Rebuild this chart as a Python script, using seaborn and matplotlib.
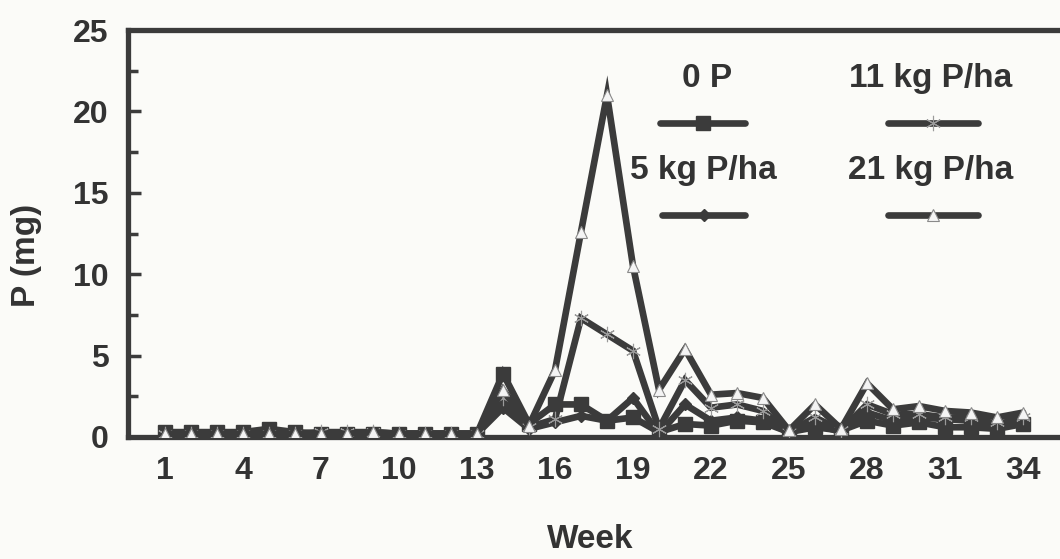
import matplotlib
matplotlib.use("Agg")
import matplotlib.pyplot as plt
from matplotlib.lines import Line2D
import numpy as np
import pandas as pd
import seaborn as sns

# Weekly phosphorus loss (mg) per fertiliser treatment
weeks = list(range(1, 35))
p0 = [0.3, 0.3, 0.3, 0.3, 0.5, 0.3, 0.2, 0.2, 0.2, 0.2, 0.2, 0.2, 0.2,
      3.9, 0.8, 2.0, 2.0, 1.0, 1.2, 0.3, 0.8, 0.7, 1.0, 0.9, 0.3, 0.6,
      0.4, 1.0, 0.7, 0.9, 0.6, 0.6, 0.5, 0.8]
p5 = [0.2, 0.2, 0.2, 0.2, 0.2, 0.2, 0.2, 0.2, 0.2, 0.2, 0.2, 0.2, 0.2,
      1.8, 0.5, 0.9, 1.3, 1.0, 2.4, 0.2, 2.0, 1.0, 1.2, 1.0, 0.3, 0.8,
      0.3, 1.5, 1.0, 1.2, 1.1, 1.0, 0.8, 1.0]
p11 = [0.2, 0.2, 0.2, 0.2, 0.2, 0.2, 0.3, 0.3, 0.3, 0.2, 0.2, 0.2, 0.2,
       2.4, 0.6, 1.1, 7.3, 6.3, 5.3, 0.5, 3.5, 1.8, 2.0, 1.6, 0.3, 1.2,
       0.4, 2.0, 1.4, 1.4, 1.2, 1.2, 0.9, 1.2]
p21 = [0.2, 0.2, 0.2, 0.2, 0.2, 0.2, 0.2, 0.2, 0.3, 0.2, 0.2, 0.2, 0.2,
       2.9, 0.7, 4.1, 12.6, 21.0, 10.5, 2.9, 5.4, 2.6, 2.7, 2.4, 0.4, 2.0,
       0.5, 3.3, 1.7, 1.9, 1.6, 1.5, 1.2, 1.5]

labels = ["0 P", "5 kg P/ha", "11 kg P/ha", "21 kg P/ha"]
xticks = list(range(1, 35, 3))
yticks = [0, 5, 10, 15, 20, 25]

sns.set_style("ticks")
plt.rcParams["font.family"] = ["Liberation Sans", "DejaVu Sans"]
plt.rcParams["font.weight"] = "bold"

ink = "#3b3b3b"
txt = "#333333"
bg = "#fbfbf8"

fig = plt.figure(figsize=(10.6, 5.59), dpi=100, facecolor=bg)
ax = fig.add_axes([128 / 1060, 1 - 437 / 559, 1 - 128 / 1060, (437 - 30) / 559])
ax.set_facecolor(bg)

styles = {
    "0 P": dict(marker="s", markersize=10, markerfacecolor=ink, markeredgecolor=ink, markeredgewidth=1),
    "5 kg P/ha": dict(marker="D", markersize=6, markerfacecolor=ink, markeredgecolor=ink, markeredgewidth=1),
    "11 kg P/ha": dict(marker=(6, 2, 0), markersize=11, markerfacecolor="none", markeredgecolor="#9a9a9a", markeredgewidth=0.8),
    "21 kg P/ha": dict(marker="^", markersize=8, markerfacecolor="#f4f4f4", markeredgecolor="#8a8a8a", markeredgewidth=0.8),
}

series = {"0 P": p0, "5 kg P/ha": p5, "11 kg P/ha": p11, "21 kg P/ha": p21}
for name in labels:
    df = pd.DataFrame({"week": weeks, "P": series[name]})
    sns.lineplot(data=df, x="week", y="P", ax=ax, color=ink, linewidth=4.8,
                 zorder=3, legend=False, solid_joinstyle="miter", **styles[name])

ax.set_xlim(-0.42, 35.42)
ax.set_ylim(0, 25)
ax.set_xticks(xticks)
ax.set_yticks(yticks)
ax.set_yticks(np.arange(2.5, 25, 5), minor=True)
ax.tick_params(axis="y", which="major", direction="in", length=9, width=2.5, color=ink,
               labelsize=23, labelcolor=txt, pad=14)
ax.tick_params(axis="y", which="minor", direction="in", length=7, width=2.5, color=ink)
ax.tick_params(axis="x", which="both", length=0, labelsize=23, labelcolor=txt, pad=14)
for lab in ax.get_xticklabels() + ax.get_yticklabels():
    lab.set_fontweight("bold")

for side in ["left", "bottom", "top"]:
    ax.spines[side].set_visible(True)
    ax.spines[side].set_linewidth(3.8)
    ax.spines[side].set_color(ink)
ax.spines["right"].set_visible(False)

ax.set_xlabel("Week", fontsize=24, fontweight="bold", color=txt)
ax.set_ylabel("P (mg)", fontsize=24, fontweight="bold", color=txt)
ax.xaxis.set_label_coords(0.496, -0.214)
ax.yaxis.set_label_coords(-0.092, 0.447)

# Two-by-two key: label above a short line sample
key = [
    ("0 P", 0.621, 0.882, 0.571, 0.662, 0.771),
    ("11 kg P/ha", 0.861, 0.882, 0.815, 0.912, 0.771),
    ("5 kg P/ha", 0.617, 0.656, 0.573, 0.662, 0.545),
    ("21 kg P/ha", 0.861, 0.656, 0.815, 0.912, 0.545),
]
for name, tx, ty, x0, x1, hy in key:
    ax.text(tx, ty, name, transform=ax.transAxes, ha="center", va="center",
            fontsize=24, fontweight="bold", color=txt, zorder=1)
    ax.add_line(Line2D([x0, x1], [hy, hy], transform=ax.transAxes, color=ink,
                       linewidth=4.8, zorder=2))
    ax.add_line(Line2D([(x0 + x1) / 2], [hy], transform=ax.transAxes, color=ink,
                       linestyle="none", zorder=2, **styles[name]))

fig.savefig("out.png", dpi=100, facecolor=bg)
